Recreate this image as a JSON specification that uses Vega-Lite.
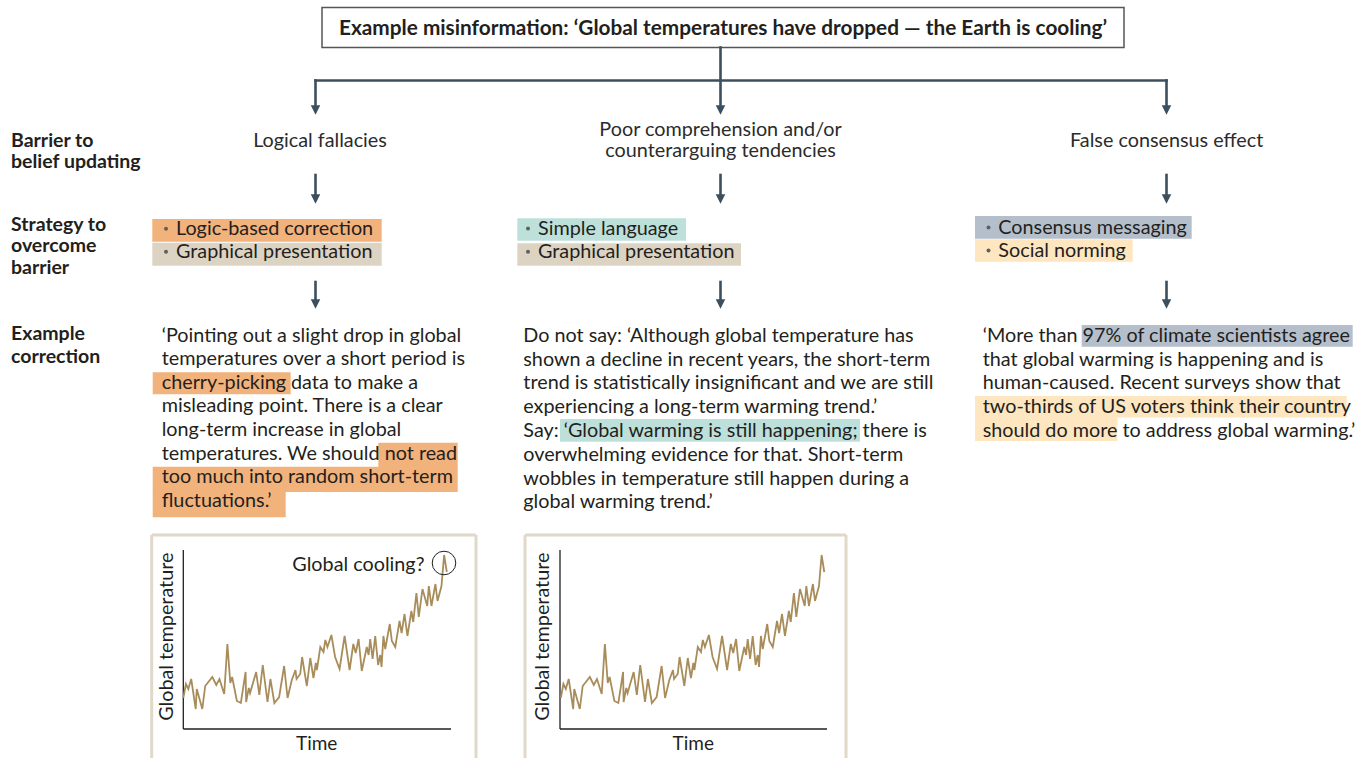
{
  "$schema": "https://vega.github.io/schema/vega-lite/v6.json",
  "width": 1370,
  "height": 758,
  "padding": 0,
  "autosize": {"type": "none"},
  "background": "white",
  "config": {"view": {"stroke": null}},
  "datasets": {
    "titleBox": [{"x": 322, "x2": 1124, "y": 7.5, "y2": 47.5}],
    "titleText": [{"x": 723, "y": 34.5, "text": "Example misinformation: ‘Global temperatures have dropped — the Earth is cooling’"}],
    "connectors": [
      {"x": 720.5, "y": 47.5, "x2": 720.5, "y2": 107},
      {"x": 315.5, "y": 80.5, "x2": 1166.5, "y2": 80.5},
      {"x": 315.5, "y": 80.5, "x2": 315.5, "y2": 107},
      {"x": 1166.5, "y": 80.5, "x2": 1166.5, "y2": 107},
      {"x": 315.5, "y": 175, "x2": 315.5, "y2": 196},
      {"x": 720.5, "y": 175, "x2": 720.5, "y2": 196},
      {"x": 1166.5, "y": 175, "x2": 1166.5, "y2": 196},
      {"x": 315.5, "y": 282, "x2": 315.5, "y2": 301},
      {"x": 720.5, "y": 282, "x2": 720.5, "y2": 301},
      {"x": 1166.5, "y": 282, "x2": 1166.5, "y2": 301}
    ],
    "arrowheads": [
      {"x": 315.5, "y": 110},
      {"x": 720.5, "y": 110},
      {"x": 1166.5, "y": 110},
      {"x": 315.5, "y": 199},
      {"x": 720.5, "y": 199},
      {"x": 1166.5, "y": 199},
      {"x": 315.5, "y": 304},
      {"x": 720.5, "y": 304},
      {"x": 1166.5, "y": 304}
    ],
    "rowLabels": [
      {"x": 11, "y": 146.7, "text": "Barrier to"},
      {"x": 11, "y": 168.3, "text": "belief updating"},
      {"x": 11, "y": 230.5, "text": "Strategy to"},
      {"x": 11, "y": 252.3, "text": "overcome"},
      {"x": 11, "y": 274, "text": "barrier"},
      {"x": 11, "y": 340, "text": "Example"},
      {"x": 11, "y": 362.5, "text": "correction"}
    ],
    "barriers": [
      {"x": 320, "y": 146.7, "text": "Logical fallacies"},
      {"x": 720.5, "y": 136, "text": "Poor comprehension and/or"},
      {"x": 720.5, "y": 157.3, "text": "counterarguing tendencies"},
      {"x": 1166.7, "y": 146.7, "text": "False consensus effect"}
    ],
    "highlights": [
      {"strategy": "Logic-based correction", "x": 152.3, "x2": 381.7, "y": 219, "y2": 241.7},
      {"strategy": "Graphical presentation", "x": 152.3, "x2": 381.7, "y": 242.7, "y2": 265.7},
      {"strategy": "Simple language", "x": 517.3, "x2": 686, "y": 218.3, "y2": 240.7},
      {"strategy": "Graphical presentation", "x": 517.3, "x2": 741, "y": 243.3, "y2": 265.7},
      {"strategy": "Consensus messaging", "x": 975, "x2": 1191.7, "y": 216, "y2": 238.7},
      {"strategy": "Social norming", "x": 975, "x2": 1132.7, "y": 239.3, "y2": 261.7},
      {"strategy": "Logic-based correction", "x": 152.7, "x2": 290.7, "y": 372.3, "y2": 394.3},
      {"strategy": "Logic-based correction", "x": 378.3, "x2": 457.7, "y": 442.7, "y2": 467},
      {"strategy": "Logic-based correction", "x": 152.7, "x2": 457.7, "y": 466.7, "y2": 492},
      {"strategy": "Logic-based correction", "x": 152.7, "x2": 285.7, "y": 491.7, "y2": 517.3},
      {"strategy": "Simple language", "x": 560, "x2": 860, "y": 419, "y2": 441.7},
      {"strategy": "Consensus messaging", "x": 1081.7, "x2": 1352.7, "y": 325, "y2": 346.7},
      {"strategy": "Social norming", "x": 975, "x2": 1346.7, "y": 396, "y2": 417.5},
      {"strategy": "Social norming", "x": 975, "x2": 1117.3, "y": 417.3, "y2": 441}
    ],
    "strategies": [
      {"x": 176, "y": 235, "text": "Logic-based correction"},
      {"x": 176, "y": 258.3, "text": "Graphical presentation"},
      {"x": 538, "y": 235, "text": "Simple language"},
      {"x": 538, "y": 258.3, "text": "Graphical presentation"},
      {"x": 998.3, "y": 233.5, "text": "Consensus messaging"},
      {"x": 998.3, "y": 256.5, "text": "Social norming"}
    ],
    "bullets": [
      {"x": 166, "y": 228.7},
      {"x": 166, "y": 251.8},
      {"x": 528, "y": 228.5},
      {"x": 528, "y": 251.8},
      {"x": 988.5, "y": 227.5},
      {"x": 988.5, "y": 250.5}
    ],
    "paragraphs": [
      {"x": 161.7, "y": 341.7, "text": "‘Pointing out a slight drop in global"},
      {"x": 161.7, "y": 365.3, "text": "temperatures over a short period is"},
      {"x": 161.7, "y": 388.8, "text": "cherry-picking data to make a"},
      {"x": 161.7, "y": 412.4, "text": "misleading point. There is a clear"},
      {"x": 161.7, "y": 436, "text": "long-term increase in global"},
      {"x": 161.7, "y": 459.5, "text": "temperatures. We should not read"},
      {"x": 161.7, "y": 483.1, "text": "too much into random short-term"},
      {"x": 161.7, "y": 506.7, "text": "fluctuations.’"},
      {"x": 523.3, "y": 341.7, "text": "Do not say: ‘Although global temperature has"},
      {"x": 523.3, "y": 365.5, "text": "shown a decline in recent years, the short-term"},
      {"x": 523.3, "y": 389.3, "text": "trend is statistically insignificant and we are still"},
      {"x": 523.3, "y": 413.1, "text": "experiencing a long-term warming trend.’"},
      {"x": 523.3, "y": 436.9, "text": "Say: ‘Global warming is still happening; there is"},
      {"x": 523.3, "y": 460.7, "text": "overwhelming evidence for that. Short-term"},
      {"x": 523.3, "y": 484.5, "text": "wobbles in temperature still happen during a"},
      {"x": 523.3, "y": 508.3, "text": "global warming trend.’"},
      {"x": 982.7, "y": 341.7, "text": "‘More than 97% of climate scientists agree"},
      {"x": 982.7, "y": 365.5, "text": "that global warming is happening and is"},
      {"x": 982.7, "y": 389.3, "text": "human-caused. Recent surveys show that"},
      {"x": 982.7, "y": 413.1, "text": "two-thirds of US voters think their country"},
      {"x": 982.7, "y": 436.8, "text": "should do more to address global warming.’"}
    ],
    "frames": [
      {"x": 151.7, "y": 535, "x2": 151.7, "y2": 758},
      {"x": 151.7, "y": 535, "x2": 476, "y2": 535},
      {"x": 476, "y": 535, "x2": 476, "y2": 758},
      {"x": 525, "y": 535, "x2": 525, "y2": 758},
      {"x": 525, "y": 535, "x2": 846, "y2": 535},
      {"x": 846, "y": 535, "x2": 846, "y2": 758}
    ],
    "axesLines": [
      {"x": 183.3, "y": 550, "x2": 183.3, "y2": 729},
      {"x": 183.3, "y": 729, "x2": 451, "y2": 729},
      {"x": 560, "y": 550, "x2": 560, "y2": 729},
      {"x": 560, "y": 729, "x2": 827, "y2": 729}
    ],
    "axisTitles": [
      {"x": 316.7, "y": 750, "text": "Time"},
      {"x": 693.3, "y": 750, "text": "Time"}
    ],
    "axisTitlesY": [
      {"x": 166.7, "y": 636.7, "text": "Global temperature"},
      {"x": 543.3, "y": 636.7, "text": "Global temperature"}
    ],
    "annotation": [{"x": 424.5, "y": 570.7, "text": "Global cooling?"}],
    "coolingMark": [{"t": 99.05, "temp": 1.66}],
    "temperature": [
      {"t": 0.3, "temp": 0.31}, {"t": 1.3, "temp": 0.45}, {"t": 2.2, "temp": 0.40}, {"t": 3.3, "temp": 0.50},
      {"t": 5.0, "temp": 0.20}, {"t": 5.4, "temp": 0.40}, {"t": 7.5, "temp": 0.20}, {"t": 8.6, "temp": 0.43},
      {"t": 11.3, "temp": 0.52}, {"t": 12.8, "temp": 0.44}, {"t": 14.0, "temp": 0.50}, {"t": 15.8, "temp": 0.35},
      {"t": 17.0, "temp": 0.85}, {"t": 18.1, "temp": 0.46}, {"t": 18.8, "temp": 0.52}, {"t": 20.6, "temp": 0.28},
      {"t": 22.1, "temp": 0.26}, {"t": 23.9, "temp": 0.57}, {"t": 24.1, "temp": 0.27}, {"t": 25.1, "temp": 0.41},
      {"t": 25.6, "temp": 0.36}, {"t": 27.9, "temp": 0.57}, {"t": 29.1, "temp": 0.34}, {"t": 30.4, "temp": 0.64},
      {"t": 32.2, "temp": 0.27}, {"t": 33.3, "temp": 0.50}, {"t": 34.8, "temp": 0.26}, {"t": 36.6, "temp": 0.32},
      {"t": 38.5, "temp": 0.63}, {"t": 39.8, "temp": 0.31}, {"t": 41.4, "temp": 0.49}, {"t": 42.8, "temp": 0.59},
      {"t": 43.2, "temp": 0.50}, {"t": 44.6, "temp": 0.55}, {"t": 45.3, "temp": 0.72}, {"t": 47.1, "temp": 0.43},
      {"t": 48.4, "temp": 0.71}, {"t": 49.6, "temp": 0.51}, {"t": 50.5, "temp": 0.66}, {"t": 50.9, "temp": 0.59},
      {"t": 52.2, "temp": 0.82}, {"t": 53.4, "temp": 0.77}, {"t": 54.1, "temp": 0.89}, {"t": 54.9, "temp": 0.82},
      {"t": 56.4, "temp": 0.94}, {"t": 57.8, "temp": 0.72}, {"t": 59.5, "temp": 0.60}, {"t": 61.4, "temp": 0.93},
      {"t": 63.3, "temp": 0.59}, {"t": 64.7, "temp": 0.85}, {"t": 65.6, "temp": 0.76}, {"t": 66.7, "temp": 0.90},
      {"t": 67.9, "temp": 0.58}, {"t": 69.8, "temp": 0.82}, {"t": 70.5, "temp": 0.74}, {"t": 71.1, "temp": 0.90},
      {"t": 72.0, "temp": 0.70}, {"t": 73.0, "temp": 0.93}, {"t": 74.1, "temp": 0.64}, {"t": 74.9, "temp": 0.74},
      {"t": 75.4, "temp": 0.62}, {"t": 76.1, "temp": 0.93}, {"t": 76.8, "temp": 0.80}, {"t": 78.5, "temp": 1.05},
      {"t": 79.3, "temp": 0.88}, {"t": 80.6, "temp": 0.82}, {"t": 82.2, "temp": 1.08}, {"t": 83.0, "temp": 0.96},
      {"t": 84.1, "temp": 1.15}, {"t": 85.2, "temp": 0.93}, {"t": 86.7, "temp": 1.18}, {"t": 87.4, "temp": 1.07},
      {"t": 88.6, "temp": 1.36}, {"t": 89.5, "temp": 1.12}, {"t": 90.9, "temp": 1.40}, {"t": 92.7, "temp": 1.23},
      {"t": 93.3, "temp": 1.43}, {"t": 94.3, "temp": 1.23}, {"t": 95.8, "temp": 1.45}, {"t": 96.6, "temp": 1.28},
      {"t": 98.1, "temp": 1.43}, {"t": 99.1, "temp": 1.74}, {"t": 100.1, "temp": 1.57}
    ]
  },
  "layer": [
    {
      "encoding": {
        "x": {"field": "x", "type": "quantitative", "scale": {"domain": [0, 1370], "nice": false, "zero": false}, "axis": null},
        "y": {"field": "y", "type": "quantitative", "scale": {"domain": [0, 758], "reverse": true, "nice": false, "zero": false}, "axis": null}
      },
      "layer": [
        {
          "data": {"name": "titleBox"},
          "mark": {"type": "rect", "fill": "white", "stroke": "#555555", "strokeWidth": 1.5},
          "encoding": {"x2": {"field": "x2"}, "y2": {"field": "y2"}}
        },
        {
          "data": {"name": "titleText"},
          "mark": {"type": "text", "font": "Lato", "fontSize": 20.8, "fontWeight": "bold", "align": "center", "baseline": "alphabetic", "fill": "#231f20"},
          "encoding": {"text": {"field": "text"}}
        },
        {
          "data": {"name": "connectors"},
          "mark": {"type": "rule", "stroke": "#3d4f5c", "strokeWidth": 2.6, "strokeCap": "square"},
          "encoding": {"x2": {"field": "x2"}, "y2": {"field": "y2"}}
        },
        {
          "data": {"name": "arrowheads"},
          "mark": {"type": "point", "shape": "M-1,-1L1,-1L0,1Z", "filled": true, "size": 90, "color": "#3d4f5c", "opacity": 1}
        },
        {
          "data": {"name": "rowLabels"},
          "mark": {"type": "text", "font": "Lato", "fontSize": 19.5, "fontWeight": "bold", "align": "left", "baseline": "alphabetic", "fill": "#231f20"},
          "encoding": {"text": {"field": "text"}}
        },
        {
          "data": {"name": "barriers"},
          "mark": {"type": "text", "font": "Lato", "fontSize": 19.8, "align": "center", "baseline": "alphabetic", "fill": "#2b2b2b"},
          "encoding": {"text": {"field": "text"}}
        },
        {
          "data": {"name": "highlights"},
          "mark": {"type": "rect", "opacity": 1},
          "encoding": {
            "x2": {"field": "x2"},
            "y2": {"field": "y2"},
            "color": {
              "field": "strategy",
              "type": "nominal",
              "scale": {
                "domain": ["Logic-based correction", "Graphical presentation", "Simple language", "Consensus messaging", "Social norming"],
                "range": ["#f2b27c", "#ddd3c2", "#bee0da", "#b5bfcc", "#fde6c0"]
              },
              "legend": null
            }
          }
        },
        {
          "data": {"name": "bullets"},
          "mark": {"type": "point", "shape": "circle", "filled": true, "size": 16, "color": "#5f5f5f", "opacity": 1}
        },
        {
          "data": {"name": "strategies"},
          "mark": {"type": "text", "font": "Lato", "fontSize": 19.8, "align": "left", "baseline": "alphabetic", "fill": "#231f20"},
          "encoding": {"text": {"field": "text"}}
        },
        {
          "data": {"name": "paragraphs"},
          "mark": {"type": "text", "font": "Lato", "fontSize": 19.8, "align": "left", "baseline": "alphabetic", "fill": "#231f20"},
          "encoding": {"text": {"field": "text"}}
        },
        {
          "data": {"name": "frames"},
          "mark": {"type": "rule", "stroke": "#e0d8c8", "strokeWidth": 3},
          "encoding": {"x2": {"field": "x2"}, "y2": {"field": "y2"}}
        },
        {
          "data": {"name": "axesLines"},
          "mark": {"type": "rule", "stroke": "#231f20", "strokeWidth": 1.3},
          "encoding": {"x2": {"field": "x2"}, "y2": {"field": "y2"}}
        },
        {
          "data": {"name": "axisTitles"},
          "mark": {"type": "text", "font": "Lato", "fontSize": 19, "align": "center", "baseline": "alphabetic", "fill": "#231f20"},
          "encoding": {"text": {"field": "text"}}
        },
        {
          "data": {"name": "axisTitlesY"},
          "mark": {"type": "text", "font": "Lato", "fontSize": 19.8, "align": "center", "baseline": "middle", "angle": 270, "fill": "#231f20"},
          "encoding": {"text": {"field": "text"}}
        },
        {
          "data": {"name": "annotation"},
          "mark": {"type": "text", "font": "Lato", "fontSize": 19.8, "align": "right", "baseline": "alphabetic", "fill": "#231f20"},
          "encoding": {"text": {"field": "text"}}
        }
      ]
    },
    {
      "encoding": {
        "x": {"field": "t", "type": "quantitative", "scale": {"domain": [-69.13, 449.81], "nice": false, "zero": false}, "axis": null},
        "y": {"field": "temp", "type": "quantitative", "scale": {"domain": [-0.29, 7.29], "nice": false, "zero": false}, "axis": null}
      },
      "layer": [
        {
          "data": {"name": "temperature"},
          "mark": {"type": "line", "color": "#a88d5a", "strokeWidth": 1.8}
        },
        {
          "data": {"name": "coolingMark"},
          "mark": {"type": "point", "shape": "circle", "filled": false, "size": 556, "stroke": "#231f20", "strokeWidth": 1, "opacity": 1}
        }
      ]
    },
    {
      "data": {"name": "temperature"},
      "mark": {"type": "line", "color": "#a88d5a", "strokeWidth": 1.8},
      "encoding": {
        "x": {"field": "t", "type": "quantitative", "scale": {"domain": [-212.12, 306.82], "nice": false, "zero": false}, "axis": null},
        "y": {"field": "temp", "type": "quantitative", "scale": {"domain": [-0.29, 7.29], "nice": false, "zero": false}, "axis": null}
      }
    }
  ],
  "resolve": {"scale": {"x": "independent", "y": "independent"}}
}
